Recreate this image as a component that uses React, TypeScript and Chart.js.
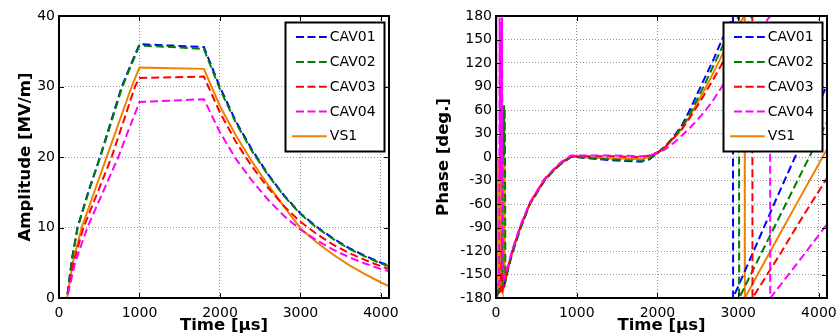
import React, { useEffect, useRef } from "react";
import { Chart, registerables } from "chart.js";

Chart.register(...registerables);

const seriesNames = ["CAV01", "CAV02", "CAV03", "CAV04", "VS1"];
const seriesColors = ["#0000ff", "#008000", "#ff0000", "#ff00ff", "#f08000"];
const seriesDashed = [true, true, true, true, false];
const seriesOrder = [4, 3, 2, 1, 5];

const timeTicks = [0, 1000, 2000, 3000, 4000];
const ampTicks = [0, 10, 20, 30, 40];
const phaseTicks = [-180, -150, -120, -90, -60, -30, 0, 30, 60, 90, 120, 150, 180];

// Amplitude [MV/m] vs time [us]
const ampCav01 = [[0,0],[100,0],[160,5.5],[230,10],[370,15.3],[510,20],[650,25.2],[780,30],[900,33.3],[1000,36.0],[1400,35.8],[1800,35.6],[2000,29.9],[2200,25.0],[2400,21.0],[2600,17.5],[2800,14.5],[3000,12.0],[3200,10.1],[3400,8.5],[3600,7.1],[3800,6.0],[4000,5.0],[4100,4.6]];
const ampCav02 = [[0,0],[100,0],[160,5.4],[232,10],[372,15.2],[512,20],[652,25],[782,29.8],[900,33.1],[1000,35.8],[1400,35.6],[1800,35.3],[2000,29.6],[2200,24.8],[2400,20.8],[2600,17.4],[2800,14.4],[3000,11.9],[3200,10.0],[3400,8.4],[3600,7.0],[3800,5.9],[4000,4.9],[4100,4.5]];
const ampCav03 = [[0,0],[100,0],[180,5],[304,10],[480,15],[654,20],[800,25],[944,30],[1000,31.2],[1400,31.3],[1800,31.4],[2000,26.3],[2200,22.1],[2400,18.6],[2600,15.6],[2800,13.0],[3000,10.8],[3200,9.1],[3400,7.6],[3600,6.4],[3800,5.4],[4000,4.5],[4100,4.1]];
const ampCav04 = [[0,0],[100,0],[200,5],[352,10],[545,15],[737,20],[870,24],[1000,27.8],[1400,28.0],[1800,28.2],[2000,23.5],[2200,19.7],[2400,16.6],[2600,13.9],[2800,11.6],[3000,9.7],[3200,8.2],[3400,6.9],[3600,5.8],[3800,4.9],[4000,4.1],[4100,3.8]];
const ampVs1 = [[0,0],[100,0],[170,5],[282,10],[437,15],[592,20],[748,25],[903,30],[1000,32.7],[1400,32.6],[1800,32.5],[2000,27.2],[2200,23.0],[2400,19.3],[2600,16.0],[2800,12.9],[3000,9.9],[3200,7.9],[3400,6.2],[3600,4.7],[3800,3.4],[4000,2.2],[4100,1.7]];

// Phase [deg.] vs time [us]
const phaseCav01 = [[0,-178],[40,-172],[80,-168],[100,-165],[115,-158],[150,-143],[200,-124],[300,-92],[420,-60],[600,-30],[700,-19],[800,-9],[930,0],[1000,0],[1200,-2],[1400,-4],[1600,-5],[1800,-6],[1900,-3],[2000,5],[2100,14],[2200,26],[2300,40],[2400,60],[2500,82],[2600,104],[2700,126],[2800,150],[2900,171],[2935,180],[2937,-180],[3200,-118],[3500,-47],[3800,22],[4100,92]];
const phaseCav02 = [[0,-176],[50,-166],[80,-162],[84,66],[88,2],[92,64],[96,0],[100,67],[104,2],[108,62],[112,0],[116,-160],[150,-142],[200,-122],[300,-91],[420,-60],[600,-30],[700,-19],[800,-9],[930,0],[1000,0],[1200,-2],[1400,-3],[1600,-4],[1800,-5],[1900,-2],[2000,5],[2100,14],[2200,25],[2300,38],[2400,55],[2500,75],[2600,96],[2700,118],[2800,140],[2900,161],[3000,178],[3010,180],[3012,-180],[3300,-120],[3600,-58],[3900,4],[4100,45]];
const phaseCav03 = [[0,-178],[10,-172],[20,-177],[40,-173],[60,-170],[75,-100],[85,-168],[100,-163],[115,-157],[150,-141],[200,-121],[300,-90],[420,-59],[600,-29],[700,-18],[800,-8],[930,1],[1000,1],[1400,1],[1800,0],[1900,2],[2000,6],[2100,13],[2200,24],[2300,35],[2400,50],[2500,66],[2600,83],[2700,101],[2800,119],[2900,137],[3000,152],[3100,167],[3175,180],[3177,-180],[3500,-127],[3800,-76],[4100,-27]];
const phaseCav04 = [[0,-165],[40,-162],[45,178],[50,-25],[55,175],[60,-30],[65,170],[70,-28],[75,178],[80,-140],[100,-155],[115,-150],[150,-138],[200,-119],[300,-88],[420,-58],[600,-28],[700,-17],[800,-7],[930,2],[1000,2],[1400,2],[1800,1],[1900,2],[2000,5],[2100,10],[2200,18],[2300,27],[2400,37],[2500,48],[2600,60],[2700,74],[2800,90],[2900,106],[3000,121],[3100,136],[3200,151],[3300,166],[3395,180],[3397,-180],[3700,-140],[4100,-86]];
const phaseVs1 = [[0,180],[3,-178],[6,175],[9,-2],[13,-172],[17,0],[21,-175],[25,-1],[29,-170],[33,0],[37,-174],[41,-2],[45,-168],[49,0],[53,-172],[57,-1],[61,-170],[65,0],[69,-173],[73,-2],[77,-168],[81,0],[85,-171],[89,-1],[93,-166],[97,0],[101,-165],[105,-2],[109,-160],[115,-156],[150,-141],[200,-121],[300,-90],[420,-59],[600,-29],[700,-18],[800,-8],[930,0],[1000,0],[1200,-1],[1400,-2],[1600,-2],[1800,-3],[1900,0],[2000,5],[2100,13],[2200,24],[2300,36],[2400,52],[2500,70],[2600,89],[2700,109],[2800,130],[2900,150],[3000,168],[3080,180],[3082,-180],[3400,-120],[3700,-64],[4100,10]];

const ampSeries = [ampCav01, ampCav02, ampCav03, ampCav04, ampVs1];
const phaseSeries = [phaseCav01, phaseCav02, phaseCav03, phaseCav04, phaseVs1];

const FONT = "'DejaVu Sans', Verdana, sans-serif";
const DASH = [8, 4];

function decorPlugin(id: string) {
  return {
    id,
    afterDatasetsDraw(chart: any) {
      const { ctx, chartArea: a } = chart;
      const xs = chart.scales.x;
      const ys = chart.scales.y;
      ctx.save();
      ctx.strokeStyle = "#000";
      ctx.lineWidth = 1;
      ctx.setLineDash([]);
      ctx.beginPath();
      for (const t of xs.ticks) {
        const px = Math.round(xs.getPixelForValue(t.value)) + 0.5;
        ctx.moveTo(px, a.top);
        ctx.lineTo(px, a.top + 5);
        ctx.moveTo(px, a.bottom);
        ctx.lineTo(px, a.bottom - 5);
      }
      for (const t of ys.ticks) {
        const py = Math.round(ys.getPixelForValue(t.value)) + 0.5;
        ctx.moveTo(a.left, py);
        ctx.lineTo(a.left + 5, py);
        ctx.moveTo(a.right, py);
        ctx.lineTo(a.right - 5, py);
      }
      ctx.stroke();

      const w = 99;
      const h = 129;
      const x0 = a.right - 4.5 - w;
      const y0 = a.top + 6.5;
      ctx.fillStyle = "#fff";
      ctx.fillRect(x0, y0, w, h);
      ctx.lineWidth = 2;
      ctx.strokeStyle = "#000";
      ctx.strokeRect(x0, y0, w, h);
      ctx.font = `14px ${FONT}`;
      ctx.textBaseline = "middle";
      ctx.textAlign = "left";
      chart.data.datasets.forEach((ds: any, i: number) => {
        const cy = y0 + 14.6 + i * 24.8;
        ctx.beginPath();
        ctx.strokeStyle = ds.borderColor;
        ctx.lineWidth = 2;
        if (seriesDashed[i]) {
          ctx.setLineDash([8, 3.5]);
          ctx.moveTo(x0 + 10.5, cy);
        } else {
          ctx.setLineDash([]);
          ctx.moveTo(x0 + 6.6, cy);
        }
        ctx.lineTo(x0 + 41.3, cy);
        ctx.stroke();
        ctx.setLineDash([]);
        ctx.fillStyle = "#000";
        ctx.fillText(ds.label, x0 + 44.3, cy + 0.5);
      });

      ctx.lineWidth = 2;
      ctx.strokeStyle = "#000";
      ctx.strokeRect(a.left, a.top, a.right - a.left, a.bottom - a.top);
      ctx.restore();
    },
  };
}

function makeConfig(o: {
  series: number[][][];
  yMin: number;
  yMax: number;
  yTickValues: number[];
  yTitle: string;
  yWidth: number;
  padRight: number;
  id: string;
}) {
  const gridOpts = { color: "#959595", lineWidth: 1, drawTicks: false, borderDash: [1, 2] };
  const borderOpts = { display: false, dash: [1, 2] };
  return {
    type: "line" as const,
    data: {
      datasets: seriesNames.map((name, i) => ({
        label: name,
        data: o.series[i].map(([x, y]) => ({ x, y })),
        borderColor: seriesColors[i],
        backgroundColor: seriesColors[i],
        borderWidth: 2,
        borderDash: seriesDashed[i] ? DASH : [],
        pointRadius: 0,
        fill: false,
        tension: 0,
        order: seriesOrder[i],
      })),
    },
    options: {
      responsive: false,
      animation: false,
      devicePixelRatio: 1,
      layout: { padding: { left: 0, top: 16, right: o.padRight, bottom: 0 } },
      plugins: { legend: { display: false }, tooltip: { enabled: false } },
      scales: {
        x: {
          type: "linear",
          min: 0,
          max: 4100,
          afterFit: (s: any) => {
            s.height = 38;
            s.paddingLeft = 0;
            s.paddingRight = 0;
          },
          afterBuildTicks: (s: any) => {
            s.ticks = timeTicks.map((v) => ({ value: v }));
          },
          ticks: {
            autoSkip: false,
            maxRotation: 0,
            padding: 7,
            color: "#000",
            font: { family: FONT, size: 14 },
            callback: (v: any) => String(v),
          },
          grid: gridOpts,
          border: borderOpts,
          title: {
            display: true,
            text: "Time [µs]",
            color: "#000",
            font: { family: FONT, size: 16.5, weight: "bold" },
            padding: { top: 0, bottom: 0 },
          },
        },
        y: {
          type: "linear",
          min: o.yMin,
          max: o.yMax,
          afterFit: (s: any) => {
            s.width = o.yWidth;
            s.paddingTop = 0;
            s.paddingBottom = 0;
          },
          afterBuildTicks: (s: any) => {
            s.ticks = o.yTickValues.map((v) => ({ value: v }));
          },
          ticks: {
            autoSkip: false,
            padding: 4,
            color: "#000",
            font: { family: FONT, size: 14 },
            callback: (v: any) => String(v),
          },
          grid: gridOpts,
          border: borderOpts,
          title: {
            display: true,
            text: o.yTitle,
            color: "#000",
            font: { family: FONT, size: 16.5, weight: "bold" },
            padding: { top: 16, bottom: 0 },
          },
        },
      },
    },
    plugins: [decorPlugin(o.id)],
  };
}

export default function App() {
  const ampRef = useRef<HTMLCanvasElement>(null);
  const phRef = useRef<HTMLCanvasElement>(null);

  useEffect(() => {
    const c1 = new Chart(
      ampRef.current as HTMLCanvasElement,
      makeConfig({
        series: ampSeries,
        yMin: 0,
        yMax: 40,
        yTickValues: ampTicks,
        yTitle: "Amplitude [MV/m]",
        yWidth: 59,
        padRight: 29,
        id: "decorAmp",
      }) as any
    );
    const c2 = new Chart(
      phRef.current as HTMLCanvasElement,
      makeConfig({
        series: phaseSeries,
        yMin: -180,
        yMax: 180,
        yTickValues: phaseTicks,
        yTitle: "Phase [deg.]",
        yWidth: 78,
        padRight: 10,
        id: "decorPhase",
      }) as any
    );
    return () => {
      c1.destroy();
      c2.destroy();
    };
  }, []);

  return (
    <div style={{ position: "absolute", left: 0, top: 0, width: 837, height: 336, background: "#fff", overflow: "hidden" }}>
      <canvas ref={ampRef} width={418} height={336} style={{ position: "absolute", left: 0, top: 0, width: 418, height: 336 }} />
      <canvas ref={phRef} width={419} height={336} style={{ position: "absolute", left: 418, top: 0, width: 419, height: 336 }} />
    </div>
  );
}
